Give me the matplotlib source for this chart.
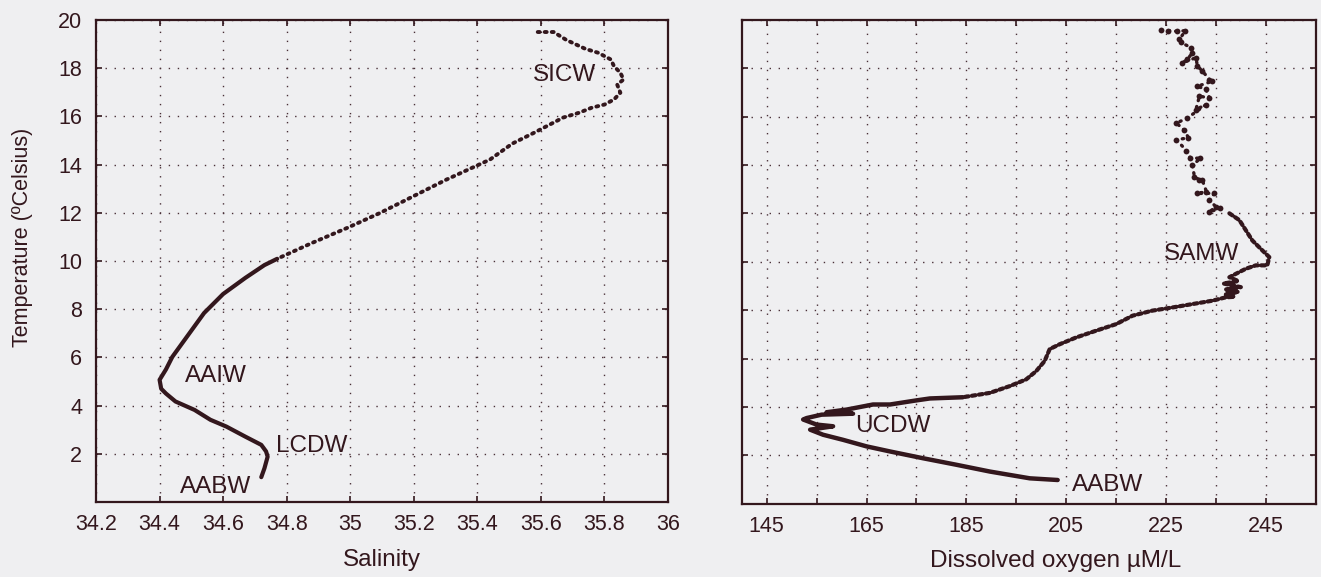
import numpy as np
import matplotlib.pyplot as plt
from matplotlib.ticker import FixedLocator, FuncFormatter

plt.rcParams['font.family'] = ['Liberation Sans', 'DejaVu Sans']

# ---- T-S profile (left panel), surface to bottom
sal = [35.59, 35.64, 35.68, 35.74, 35.78, 35.82, 35.83, 35.85, 35.86, 35.84,
       35.85, 35.83, 35.80, 35.76, 35.72, 35.67, 35.58, 35.51, 35.44, 35.30,
       35.16, 35.09, 34.99, 34.88, 34.77, 34.73, 34.67, 34.60, 34.54, 34.49,
       34.44, 34.42, 34.40, 34.405, 34.42, 34.45, 34.51, 34.56, 34.61, 34.67,
       34.72, 34.735, 34.74, 34.73, 34.72]
temp_s = [19.50, 19.50, 19.17, 18.80, 18.64, 18.36, 18.08, 17.81, 17.53, 17.32,
          16.98, 16.70, 16.49, 16.36, 16.15, 15.95, 15.33, 14.87, 14.21, 13.36,
          12.43, 11.97, 11.37, 10.75, 10.09, 9.83, 9.30, 8.63, 7.84, 6.93,
          6.02, 5.50, 5.07, 4.70, 4.50, 4.17, 3.82, 3.41, 3.13, 2.71,
          2.37, 2.10, 1.88, 1.40, 1.03]

# ---- oxygen profile (right panel): scattered upper points
oxy_pts = [224.0, 225.5, 227.3, 228.9, 227.7, 228.0, 230.0, 230.3, 229.3, 228.3,
           231.0, 231.3, 232.3, 233.7, 234.3, 231.3, 233.0, 233.7, 231.7, 231.0,
           233.0, 229.3, 227.1, 228.7, 229.5, 227.1, 229.1, 229.9, 231.9, 230.3,
           230.7, 231.7, 232.3, 233.1, 231.3, 234.7, 233.7, 235.0, 233.7, 235.9]
temp_pts = [19.57, 19.55, 19.52, 19.55, 19.19, 19.06, 18.85, 18.64, 18.36, 18.22,
            18.43, 18.08, 17.88, 17.53, 17.46, 17.25, 17.12, 16.77, 16.84, 16.29,
            16.49, 15.94, 15.73, 15.43, 15.12, 15.04, 14.59, 14.28, 14.28, 13.98,
            13.52, 13.38, 13.36, 12.90, 12.82, 12.83, 12.55, 12.27, 12.06, 12.21]

# continuous part, SAMW down to the bottom
oxy = [237.7, 239.7, 241.0, 242.3, 244.3, 245.7, 245.3, 243.0, 241.0, 239.0,
       237.7, 239.5, 236.5, 240.0, 236.8, 239.5, 237.0, 238.7, 237.0, 234.3,
       230.3, 226.3, 222.3, 218.3, 215.0, 211.0, 207.0, 203.7, 201.7, 200.7,
       199.0, 197.0, 193.7, 189.7, 184.3, 177.7, 175.0, 169.7, 166.3, 161.0,
       157.0, 162.3, 156.0, 153.0, 152.3, 155.0, 158.3, 153.7, 156.3, 160.3,
       165.0, 169.7, 176.3, 183.0, 189.7, 197.7, 203.3]
temp_o = [12.00, 11.72, 11.30, 10.88, 10.47, 10.19, 9.85, 9.85, 9.71, 9.50,
          9.36, 9.20, 9.10, 8.95, 8.85, 8.75, 8.65, 8.55, 8.53, 8.39,
          8.25, 8.11, 7.98, 7.77, 7.42, 7.15, 6.87, 6.59, 6.39, 5.90,
          5.48, 5.14, 4.86, 4.58, 4.40, 4.35, 4.27, 4.10, 4.10, 3.89,
          3.78, 3.72, 3.68, 3.54, 3.48, 3.27, 3.20, 3.06, 2.85, 2.64,
          2.37, 2.16, 1.88, 1.61, 1.33, 1.05, 0.98]

sal_ticks = [34.2, 34.4, 34.6, 34.8, 35, 35.2, 35.4, 35.6, 35.8, 36]
temp_ticks = [2, 4, 6, 8, 10, 12, 14, 16, 18, 20]
oxy_ticks = [145, 155, 165, 175, 185, 195, 205, 215, 225, 235, 245]
oxy_labels = ['145', '', '165', '', '185', '', '205', '', '225', '', '245']

ink = '#33171d'
bg = '#efeff1'

fig = plt.figure(figsize=(13.21, 5.77), dpi=100, facecolor=bg)
ax1 = fig.add_axes([0.0727, 0.130, 0.4330, 0.8354])
ax2 = fig.add_axes([0.5615, 0.127, 0.4345, 0.8388])

for ax in (ax1, ax2):
    ax.set_facecolor(bg)
    for s in ax.spines.values():
        s.set_color(ink)
        s.set_linewidth(1.6)
    ax.tick_params(direction='in', length=4, width=1.2, colors=ink,
                   labelcolor=ink, labelsize=15.5, top=True, right=True)
    ax.grid(True, color='#4a3038', linewidth=1.0, linestyle=(0, (1, 5.5)))
    ax.set_ylim(0, 20)
    ax.yaxis.set_major_locator(FixedLocator(temp_ticks))

# left panel
sal = np.array(sal); temp_s = np.array(temp_s)
up = temp_s >= 10.0
ax1.plot(sal[up], temp_s[up], color=ink, lw=2.8, linestyle=(0, (0.5, 1.3)),
         dash_capstyle='round')
lo = temp_s <= 10.1
ax1.plot(sal[lo], temp_s[lo], color=ink, lw=3, solid_capstyle='round')
ax1.set_xlim(34.2, 36)
ax1.xaxis.set_major_locator(FixedLocator(sal_ticks))
ax1.xaxis.set_major_formatter(FuncFormatter(lambda v, p: '%g' % v))
ax1.tick_params(axis='x', pad=9)
ax1.tick_params(axis='y', pad=10)
ax1.set_xlabel('Salinity', fontsize=17.5, color=ink)
ax1.xaxis.set_label_coords(0.5, -0.098)
ax1.set_ylabel('Temperature (\u00baCelsius)', fontsize=15.5, color=ink)
ax1.yaxis.set_label_coords(-0.11, 0.55)

ann = dict(fontsize=17.5, color=ink, ha='center', va='center')
ax1.text(35.675, 17.7, 'SICW', **ann)
ax1.text(34.577, 5.23, 'AAIW', **ann)
ax1.text(34.878, 2.33, 'LCDW', **ann)
ax1.text(34.575, 0.64, 'AABW', **ann)

# right panel
ax2.plot(oxy_pts, temp_pts, color=ink, lw=2.4, linestyle=(0, (0.4, 1.8)),
         dash_capstyle='round')
ax2.plot(oxy_pts, temp_pts, 'o', color=ink, ms=4.2, mec='none')
oxy = np.array(oxy); temp_o = np.array(temp_o)
up = temp_o >= 4.4
ax2.plot(oxy[up], temp_o[up], color=ink, lw=3, linestyle=(0, (0.9, 0.8)),
         dash_capstyle='round')
lo = temp_o <= 4.4
ax2.plot(oxy[lo], temp_o[lo], color=ink, lw=3.2, solid_capstyle='round')
ax2.set_xlim(140, 255)
ax2.xaxis.set_major_locator(FixedLocator(oxy_ticks))
ax2.set_xticklabels(oxy_labels)
ax2.tick_params(axis='x', pad=9)
ax2.tick_params(axis='y', labelleft=False)
ax2.set_xlabel('Dissolved oxygen \u00b5M/L', fontsize=17.5, color=ink)
ax2.xaxis.set_label_coords(0.546, -0.096)

ax2.text(232.2, 10.33, 'SAMW', **ann)
ax2.text(170.3, 3.2, 'UCDW', **ann)
ax2.text(213.2, 0.79, 'AABW', **ann)

fig.savefig('out.png', dpi=100, facecolor=bg)
